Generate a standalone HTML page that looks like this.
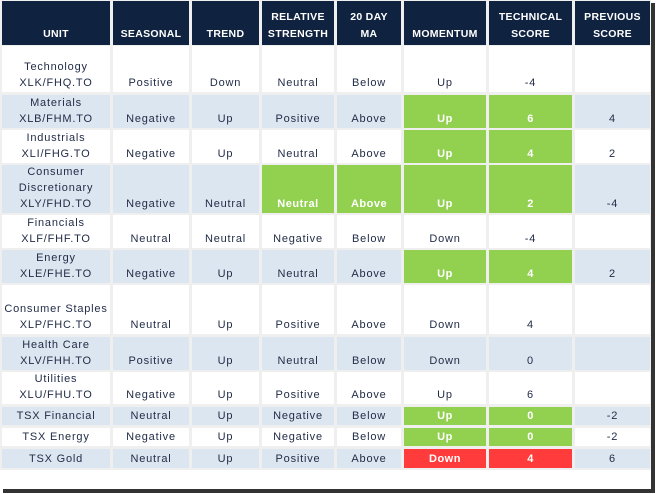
<!DOCTYPE html>
<html><head><meta charset="utf-8"><style>
body{margin:0;background:#fff;}
#wrap{position:relative;width:656px;height:494px;overflow:hidden;background:#fff;font-family:"Liberation Sans",Arial,sans-serif;}
#bg{position:absolute;left:0;top:0;width:651px;height:489px;background:#fff;}
#grid{position:absolute;left:0;top:0;width:651px;height:470px;background:#efefef;}
.c{position:absolute;display:flex;flex-direction:column;justify-content:flex-end;align-items:center;text-align:center;font-size:11px;color:#1f2a44;line-height:16px;padding-bottom:1px;box-sizing:border-box;letter-spacing:0.8px;white-space:nowrap;}
.h{background:#0f2341;color:#fff;font-weight:bold;font-size:10.5px;line-height:17px;padding-bottom:2px;letter-spacing:0.3px;}
.g{background:#92d050;color:#fff;font-weight:bold;letter-spacing:0.5px;}
.r{background:#ff3b3b;color:#fff;font-weight:bold;letter-spacing:0.5px;}
.b{background:#dce6f1;}
.w{background:#fff;}
#shR{position:absolute;left:651px;top:3px;width:4px;height:489px;background:#333;}
#shB{position:absolute;left:3px;top:489px;width:652px;height:4px;background:#333;}
</style></head><body>
<div id="wrap">
<div id="bg"></div>
<div id="grid"></div>
<div id="shR"></div>
<div id="shB"></div>
</div>
<script>
const colX=[[2,110],[113,189],[192,259],[262,334],[337,401],[404,486],[489,572],[575,650]];
const rowY=[[1,45],[46,92],[95,128],[130,163],[165,213],[215,248],[250,283],[285,334],[337,370],[372,404],[407,425],[428,446],[449,468]];
const headers=["UNIT","SEASONAL","TREND","RELATIVE<br>STRENGTH","20 DAY<br>MA","MOMENTUM","TECHNICAL<br>SCORE","PREVIOUS<br>SCORE"];
const units=["Technology<br>XLK/FHQ.TO","Materials<br>XLB/FHM.TO","Industrials<br>XLI/FHG.TO","Consumer<br>Discretionary<br>XLY/FHD.TO","Financials<br>XLF/FHF.TO","Energy<br>XLE/FHE.TO","Consumer Staples<br>XLP/FHC.TO","Health Care<br>XLV/FHH.TO","Utilities<br>XLU/FHU.TO","TSX Financial","TSX Energy","TSX Gold"];
const seasonal=["Positive","Negative","Negative","Negative","Neutral","Negative","Neutral","Positive","Negative","Neutral","Negative","Neutral"];
const trend=["Down","Up","Up","Neutral","Neutral","Up","Up","Up","Up","Up","Up","Up"];
const relStrength=["Neutral","Positive","Neutral","Neutral","Negative","Neutral","Positive","Neutral","Positive","Negative","Negative","Positive"];
const ma20=["Below","Above","Above","Above","Below","Above","Above","Below","Above","Below","Below","Above"];
const momentum=["Up","Up","Up","Up","Down","Up","Down","Down","Up","Up","Up","Down"];
const techScore=["-4","6","4","2","-4","4","4","0","6","0","0","4"];
const prevScore=["","4","2","-4","","2","","","","-2","-2","6"];
const highlights=[
 "wwwwwwww","bbbbbggb","wwwwwggw","bbbggggb","wwwwwwww","bbbbbggb","wwwwwwww","bbbbbbbb","wwwwwwww","bbbbbggb","wwwwwggw","bbbbbrrb"];
const colNames=["unit","seasonal","trend","relative-strength","20-day-ma","momentum","technical-score","previous-score"];
const wrap=document.getElementById('wrap');
function cell(ci,ri,html,cls,name){
 const d=document.createElement('div');
 d.className='c '+cls;
 const [x0,x1]=colX[ci],[y0,y1]=rowY[ri];
 d.style.left=x0+'px';d.style.top=y0+'px';d.style.width=(x1-x0)+'px';d.style.height=(y1-y0)+'px';
 d.innerHTML=html;
 
 
 wrap.appendChild(d);
}
headers.forEach((h,i)=>cell(i,0,h,'h','header-'+colNames[i]));
const cols=[units,seasonal,trend,relStrength,ma20,momentum,techScore,prevScore];
for(let r=0;r<units.length;r++){
 for(let c=0;c<8;c++){
  const hl=highlights[r][c];
  cell(c,r+1,cols[c][r],hl,'cell-'+colNames[c]+'-row'+(r+1));
 }
}
</script>
</body></html>
